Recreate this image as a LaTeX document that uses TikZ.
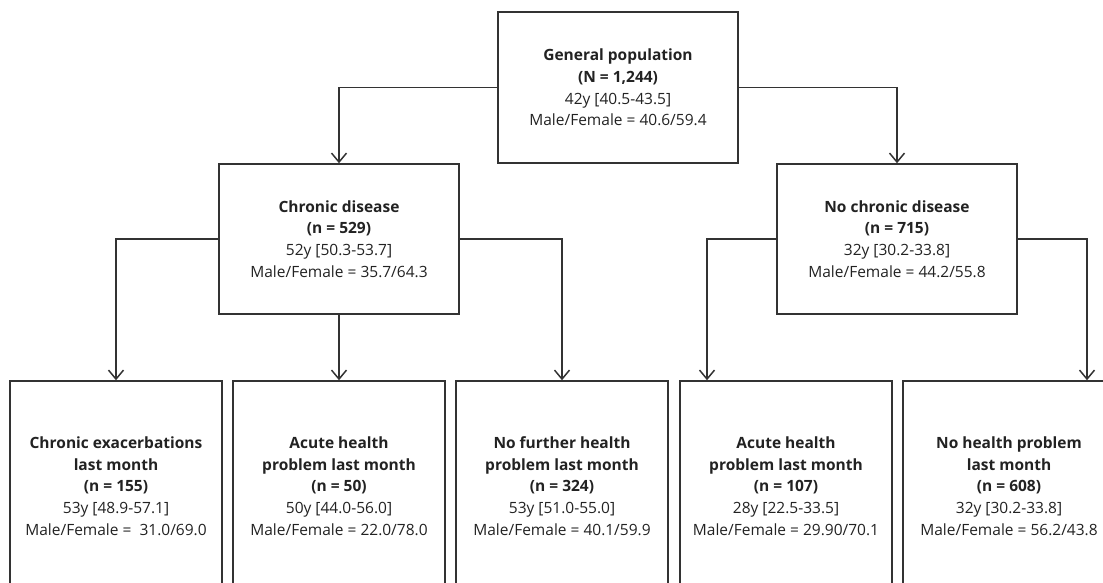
\documentclass[tikz,border=0pt]{standalone}
\usepackage{fontspec}
\setmainfont{Open Sans}
\usetikzlibrary{arrows.meta}
\definecolor{linegray}{HTML}{333333}
\definecolor{textgray}{HTML}{222222}
\begin{document}
\begin{tikzpicture}[x=1pt,y=-1pt]
    \tikzstyle{every node}+=[inner sep=0pt]
    \tikzstyle{box}=[draw=linegray, line width=1.5pt, minimum width=240pt, minimum height=151pt, align=center, text=textgray, font=\fontsize{15.5}{21.7}\selectfont]
    \tikzstyle{leaf}=[box, minimum width=212pt, minimum height=210pt]
    \tikzstyle{link}=[draw=linegray, line width=1.5pt, -{Straight Barb[length=9pt,width=15pt]}]
    \useasboundingbox (0,0) rectangle (1103,583);
    % top level
    \node [box] (gen) at (618,87.5) {\textbf{General population}\\\textbf{(N = 1,244)}\\42y [40.5-43.5]\\Male/Female = 40.6/59.4};
    % second level
    \node [box, minimum height=150pt] (chronic) at (339,239) {\textbf{Chronic disease}\\\textbf{(n = 529)}\\52y [50.3-53.7]\\Male/Female = 35.7/64.3};
    \node [box, minimum height=150pt] (nochronic) at (897,239) {\textbf{No chronic disease}\\\textbf{(n = 715)}\\32y [30.2-33.8]\\Male/Female = 44.2/55.8};
    % third level
    \node [leaf] (exacerb) at (116,486) {\textbf{Chronic exacerbations}\\\textbf{last month}\\\textbf{(n = 155)}\\53y [48.9-57.1]\\Male/Female =~ 31.0/69.0};
    \node [leaf] (acutec) at (339,486) {\textbf{Acute health}\\\textbf{problem last month}\\\textbf{(n = 50)}\\50y [44.0-56.0]\\Male/Female = 22.0/78.0};
    \node [leaf] (nofurther) at (562,486) {\textbf{No further health}\\\textbf{problem last month}\\\textbf{(n = 324)}\\53y [51.0-55.0]\\Male/Female = 40.1/59.9};
    \node [leaf] (acuten) at (786,486) {\textbf{Acute health}\\\textbf{problem last month}\\\textbf{(n = 107)}\\28y [22.5-33.5]\\Male/Female = 29.90/70.1};
    \node [leaf] (nohealth) at (1009,486) {\textbf{No health problem}\\\textbf{last month}\\\textbf{(n = 608)}\\32y [30.2-33.8]\\Male/Female = 56.2/43.8};
    % connectors
    \draw [link] (gen.west) -| (chronic.north);
    \draw [link] (gen.east) -| (nochronic.north);
    \draw [link] (chronic.west) -| (exacerb.north);
    \draw [link] (chronic.south) -- (acutec.north);
    \draw [link] (chronic.east) -| (nofurther.north);
    \draw [link] (nochronic.west) -| ([xshift=-79pt]acuten.north);
    \draw [link] (nochronic.east) -| ([xshift=78pt]nohealth.north);
\end{tikzpicture}
\end{document}
